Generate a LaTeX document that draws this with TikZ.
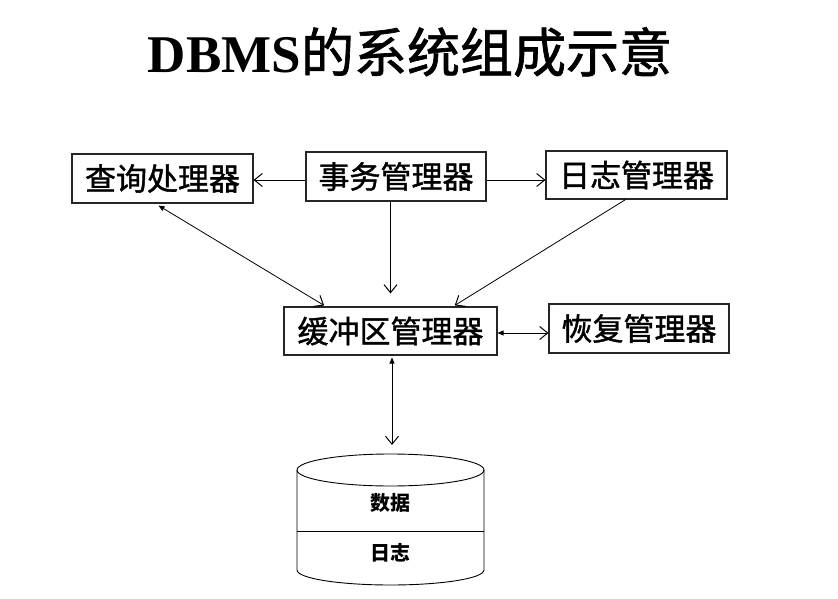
\documentclass[tikz,border=0pt]{standalone}
\usepackage{fontspec}
\setmainfont{Liberation Serif}
\newfontfamily\cjk{Noto Sans CJK SC}
\newfontfamily\cjkheavy[FakeBold=1.3]{Noto Sans CJK SC}
\usetikzlibrary{arrows.meta,calc}
\tikzset{
  box/.style={draw=black!85, line width=1.1pt, minimum height=48pt, inner sep=0pt, font=\cjkheavy\fontsize{31}{31}\selectfont},
  conn/.style={line width=0.8pt},
  barb/.tip={Straight Barb[length=8pt,width=13pt,line width=1pt]},
  tri/.tip={Triangle[length=6pt,width=5pt]},
  cyltext/.style={font=\cjk\bfseries\fontsize{20}{20}\selectfont}
}
\begin{document}
\begin{tikzpicture}[x=1pt,y=-1pt]
\useasboundingbox[fill=white] (0,0) rectangle (838,599);
\node (title) at (410,52) {\fontsize{53}{53}\selectfont\textbf{DBMS}{\cjkheavy 的系统组成示意}};
\node[box, minimum width=181pt, minimum height=49pt] (qc) at (162.5,178.5) {查询处理器};
\node[box, minimum width=180pt, minimum height=49pt] (sw) at (396,176.5) {事务管理器};
\node[box, minimum width=181pt, minimum height=48pt] (rz) at (636.5,175) {日志管理器};
\node[box, minimum width=213pt, minimum height=48pt] (hc) at (390.5,331) {缓冲区管理器};
\node[box, minimum width=180pt, minimum height=49pt] (hf) at (639,328.5) {恢复管理器};
% cylinder
\coordinate (cyl) at (390.5,454);
\draw[line width=0.9pt] (390.5,470) ellipse [x radius=93.5, y radius=16];
\draw[line width=0.9pt] (297,470) -- (297,570) arc[start angle=180, end angle=360, x radius=93.5, y radius=-15] -- (484,470);
\draw[line width=0.9pt] (297,531) -- (484,531);
\node[cyltext] (data) at (390.5,503) {数据};
\node[cyltext] (log) at (390.5,553) {日志};
% connectors
\coordinate (ya) at (0,180);
\coordinate (yb) at (0,333);
\draw[conn,-{barb}] (sw.west |- ya) -- (qc.east |- ya);
\draw[conn,-{barb}] (sw.east |- ya) -- (rz.west |- ya);
\draw[conn,-{barb}] (hc.north |- sw.south) -- ($(hc.north)+(0,-13)$);
\draw[conn,{tri}-{barb}] ($(qc.south)+(-4,2)$) -- ($(hc.north west)!0.19!(hc.north east)+(0,-1)$);
\draw[conn,-{barb}] ($(rz.south west)!0.44!(rz.south east)$) -- ($(hc.north west)!0.8!(hc.north east)+(0,-1)$);
\draw[conn,{tri}-{barb}] (hc.east |- yb) -- (hf.west |- yb);
\draw[conn,{tri}-{barb}] ($(hc.south)+(1.5,2)$) -- ($(cyl)+(1.5,-9)$);
\end{tikzpicture}
\end{document}
